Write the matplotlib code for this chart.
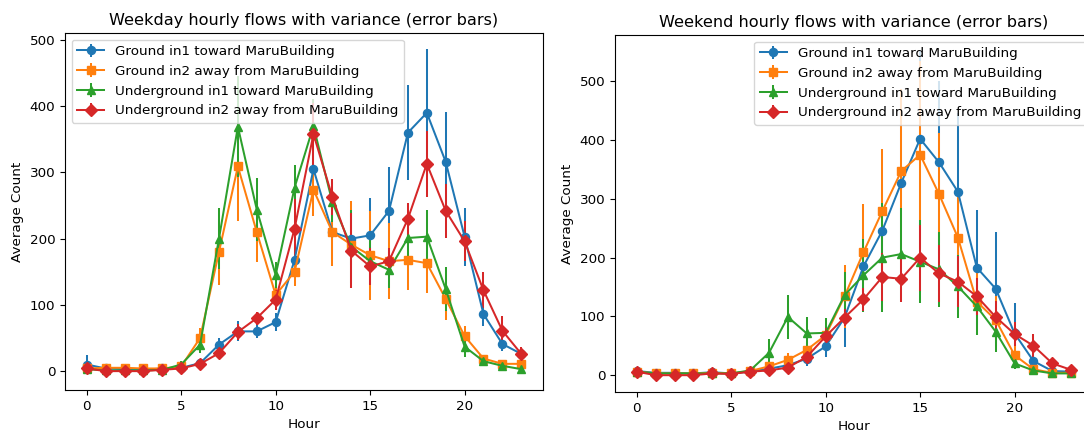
import matplotlib
matplotlib.use("Agg")
import matplotlib.pyplot as plt
import numpy as np

hours = list(range(24))

labels = [
    "Ground in1 toward MaruBuilding",
    "Ground in2 away from MaruBuilding",
    "Underground in1 toward MaruBuilding",
    "Underground in2 away from MaruBuilding",
]
markers = ["o", "s", "^", "D"]

# weekday means
wd_ground_in1 = [10, 4, 3, 2, 4, 5, 12, 40, 60, 60, 74, 168, 305, 210, 200, 205, 242, 360, 390, 316, 203, 86, 41, 26]
wd_ground_in2 = [4, 5, 5, 4, 4, 7, 50, 180, 309, 210, 115, 150, 274, 210, 191, 175, 166, 168, 163, 109, 53, 19, 11, 11]
wd_under_in1 = [3, 1, 1, 1, 2, 10, 40, 200, 369, 244, 145, 277, 370, 255, 188, 166, 153, 201, 203, 124, 37, 15, 8, 3]
wd_under_in2 = [4, 0, 0, 0, 2, 4, 11, 27, 59, 80, 108, 215, 358, 263, 182, 158, 166, 230, 313, 242, 196, 122, 61, 26]

# weekday std
wd_ground_in1_sd = [14, 3, 2, 2, 3, 3, 6, 10, 15, 10, 14, 20, 30, 40, 40, 57, 66, 72, 96, 75, 44, 18, 10, 8]
wd_ground_in2_sd = [5, 3, 3, 3, 3, 4, 15, 50, 83, 45, 20, 22, 40, 52, 66, 67, 57, 45, 45, 32, 15, 5, 4, 4]
wd_under_in1_sd = [3, 2, 2, 2, 2, 5, 12, 46, 76, 48, 20, 34, 41, 30, 55, 35, 28, 30, 40, 33, 15, 5, 3, 3]
wd_under_in2_sd = [3, 1, 1, 1, 2, 3, 5, 8, 12, 10, 15, 45, 47, 27, 57, 28, 20, 24, 50, 41, 30, 27, 22, 10]

# weekend means
we_ground_in1 = [7, 4, 4, 3, 5, 3, 6, 11, 17, 28, 49, 98, 185, 246, 327, 402, 362, 312, 183, 147, 71, 24, 7, 6]
we_ground_in2 = [6, 3, 3, 3, 4, 3, 7, 15, 26, 43, 68, 134, 209, 279, 347, 375, 308, 234, 125, 94, 34, 10, 4, 4]
we_under_in1 = [6, 3, 3, 3, 3, 3, 8, 38, 99, 71, 72, 136, 170, 200, 206, 193, 180, 151, 117, 74, 20, 8, 3, 3]
we_under_in2 = [6, 0, 0, 0, 3, 2, 6, 8, 13, 31, 66, 98, 129, 167, 164, 200, 173, 159, 134, 99, 70, 50, 20, 9]

# weekend std
we_ground_in1_sd = [5, 2, 2, 2, 3, 2, 4, 6, 10, 12, 18, 50, 60, 80, 120, 149, 138, 134, 98, 97, 51, 15, 5, 4]
we_ground_in2_sd = [4, 2, 2, 2, 2, 2, 4, 8, 12, 15, 15, 54, 83, 106, 139, 160, 104, 80, 57, 40, 15, 5, 3, 3]
we_under_in1_sd = [4, 2, 2, 2, 2, 2, 5, 23, 37, 28, 26, 40, 62, 93, 78, 71, 64, 54, 49, 34, 10, 5, 2, 2]
we_under_in2_sd = [4, 1, 1, 1, 2, 1, 4, 5, 8, 12, 15, 15, 20, 40, 40, 56, 48, 43, 32, 28, 20, 20, 10, 5]

weekday = [wd_ground_in1, wd_ground_in2, wd_under_in1, wd_under_in2]
weekday_sd = [wd_ground_in1_sd, wd_ground_in2_sd, wd_under_in1_sd, wd_under_in2_sd]
weekend = [we_ground_in1, we_ground_in2, we_under_in1, we_under_in2]
weekend_sd = [we_ground_in1_sd, we_ground_in2_sd, we_under_in1_sd, we_under_in2_sd]

# reference looks rendered a touch smaller than default
plt.rcParams["font.size"] = 9.7
plt.rcParams["lines.linewidth"] = 1.45
plt.rcParams["lines.markersize"] = 5.8

W, H = 1084, 430
fig = plt.figure(figsize=(W / 100, H / 100), dpi=100)
ax1 = fig.add_axes([65 / W, (H - 390) / H, 478 / W, 357 / H])
ax2 = fig.add_axes([615 / W, (H - 392) / H, 478 / W, 357 / H])


def draw(ax, means, sds, title, loc):
    for m, s, lab, mk in zip(means, sds, labels, markers):
        ax.errorbar(hours, m, yerr=s, marker=mk, label=lab)
    ax.set_title(title)
    ax.set_xlabel("Hour")
    ax.set_ylabel("Average Count")
    ax.set_xticks([0, 5, 10, 15, 20])
    ax.legend(loc=loc)


draw(ax1, weekday, weekday_sd, "Weekday hourly flows with variance (error bars)", "upper left")
draw(ax2, weekend, weekend_sd, "Weekend hourly flows with variance (error bars)", "upper right")

fig.savefig("out.png", dpi=100)
